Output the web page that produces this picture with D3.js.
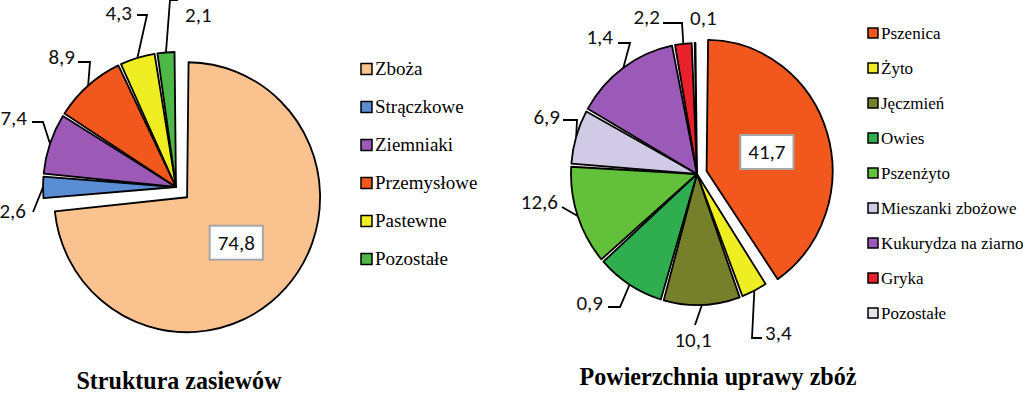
<!DOCTYPE html>
<html>
<head>
<meta charset="utf-8">
<script src="https://cdn.jsdelivr.net/npm/d3@7/dist/d3.min.js"></script>
</head>
<body style="margin:0;background:#fff">
<div id="chart"></div>
<script>
// ---- data: left pie (Struktura zasiewów)
const cropCats   = ['Zboża', 'Strączkowe', 'Ziemniaki', 'Przemysłowe', 'Pastewne', 'Pozostałe'];
const cropVals   = [74.8, 2.6, 7.4, 8.9, 4.3, 2.1];
const cropLabels = ['74,8', '2,6', '7,4', '8,9', '4,3', '2,1'];

// ---- data: right pie (Powierzchnia uprawy zbóż)
const grainCats   = ['Pszenica', 'Żyto', 'Jęczmień', 'Owies', 'Pszenżyto', 'Mieszanki zbożowe',
                     'Kukurydza na ziarno', 'Gryka', 'Pozostałe'];
const grainVals   = [41.7, 3.4, 10.1, 9.0, 12.6, 6.9, 14.0, 2.2, 0.1];
const grainLabels = ['41,7', '3,4', '10,1', '0,9', '12,6', '6,9', '1,4', '2,2', '0,1'];

// ---- styles
const cropColors  = ['#fac28f', '#5a8dd4', '#9c5ab6', '#f2581e', '#eeee22', '#4db848'];
const grainColors = ['#f2581e', '#eeee22', '#76802a', '#2eae4e', '#62c03a', '#d0cae6',
                     '#9c5ab8', '#e8212b', '#e4e4ea'];

const numFont = `'Carlito'`;
const serifFont = `'Liberation Serif'`;

// label placement (relative to the pie centre): leader bends + text position
const cropLayout = [
  null, // inside label
  { pts: [[-143, 25]], at: [-150, 24], anchor: 'end' },
  { pts: [[-133, -65], [-144, -65]], at: [-149, -69], anchor: 'end' },
  { pts: [[-86, -125], [-98, -125]], at: [-101, -130], anchor: 'end' },
  { pts: [[-29, -172], [-39, -172]], at: [-44, -174], anchor: 'end' },
  { pts: [[-6, -187], [2, -187]], at: [9, -172], anchor: 'start' }
];
const grainLayout = [
  null,
  { pts: [[55, 164], [65, 164]], at: [68, 159], anchor: 'start' },
  { pts: [[-2, 151]], at: [-4, 166], anchor: 'middle' },
  { pts: [[-77, 133], [-89, 133]], at: [-94, 129], anchor: 'end' },
  { pts: [[-135, 33]], at: [-139, 28], anchor: 'end' },
  { pts: [[-120, -54], [-134, -54]], at: [-137, -57], anchor: 'end' },
  { pts: [[-67, -131], [-79, -131]], at: [-84, -137], anchor: 'end' },
  { pts: [[-15, -151], [-34, -151]], at: [-37, -157], anchor: 'end' },
  { pts: null, at: [-7, -156], anchor: 'start' }
];

const width = 1023, height = 394;
const svg = d3.select('#chart').append('svg')
  .attr('width', width).attr('height', height).style('display', 'block');

function numText(sel) {
  return sel.attr('font-family', numFont).attr('font-size', 21).attr('fill', '#111');
}

function drawPie(o) {
  const g = svg.append('g').attr('transform', `translate(${o.cx},${o.cy})`);
  const pie = d3.pie().sort(null).padAngle(o.pad)(o.values);
  const arc = d3.arc().innerRadius(0).outerRadius(o.r).padRadius(o.r);
  const rim = d3.arc().innerRadius(o.r).outerRadius(o.r);
  const sy = o.sy; // source picture is a touch taller than wide

  // offset of the exploded slice along its middle angle
  const shift = (d, i) => {
    const e = i === o.exploded ? o.explode : 0;
    const a = (d.startAngle + d.endAngle) / 2;
    return [Math.sin(a) * e, -Math.cos(a) * e];
  };

  g.append('g').attr('transform', `scale(1,${sy})`)
    .selectAll('path.slice').data(pie).enter().append('path')
    .attr('class', 'slice')
    .attr('transform', (d, i) => `translate(${shift(d, i)})`)
    .attr('d', arc)
    .attr('fill', (d, i) => o.colors[i])
    .attr('stroke', '#000')
    .attr('stroke-width', 1.8)
    .attr('stroke-linejoin', 'round')
    .attr('vector-effect', 'non-scaling-stroke');

  // leader lines + labels
  pie.forEach((d, i) => {
    const lay = o.layout[i];
    const s = shift(d, i);
    if (!lay) {
      // label in a box inside the slice
      const c = arc.centroid(d);
      const lg = g.append('g').attr('transform', `translate(${c[0] + s[0]},${(c[1] + s[1]) * sy})`);
      const box = lg.append('rect');
      const t = numText(lg.append('text'))
        .attr('text-anchor', 'middle').attr('dy', '0.35em')
        .text(o.labels[i]);
      const bb = t.node().getBBox();
      box.attr('x', bb.x - 8).attr('y', -17).attr('width', bb.width + 16).attr('height', 34)
        .attr('fill', '#fff').attr('stroke', '#a6a6a6').attr('stroke-width', 2);
      return;
    }
    if (lay.pts) {
      const p0 = rim.centroid(d);
      const line = [[p0[0] + s[0], (p0[1] + s[1]) * sy], ...lay.pts];
      g.append('path')
        .attr('d', d3.line()(line))
        .attr('fill', 'none').attr('stroke', '#000').attr('stroke-width', 1.8);
    }
    numText(g.append('text'))
      .attr('x', lay.at[0]).attr('y', lay.at[1]).attr('dy', '0.35em')
      .attr('text-anchor', lay.anchor)
      .text(o.labels[i]);
  });
}

function drawLegend(o) {
  const y = d3.scalePoint().domain(o.cats).range(o.range);
  const lg = svg.append('g');
  const rows = lg.selectAll('g').data(o.cats).enter().append('g')
    .attr('transform', d => `translate(${o.x},${y(d)})`);
  rows.append('rect')
    .attr('x', 0).attr('y', -o.box / 2).attr('width', o.box).attr('height', o.box)
    .attr('fill', (d, i) => o.colors[i]).attr('stroke', '#000').attr('stroke-width', 1.5);
  rows.append('text')
    .attr('x', o.box + 3).attr('dy', '0.33em')
    .attr('font-family', serifFont).attr('font-size', o.size).attr('fill', '#000')
    .text(d => d);
}

drawPie({ cx: 176, cy: 187, r: 133, sy: 1.015, pad: 0.022, values: cropVals, colors: cropColors,
          labels: cropLabels, layout: cropLayout, exploded: 0, explode: 15 });
drawPie({ cx: 697, cy: 174, r: 126, sy: 1.04, pad: 0.024, values: grainVals, colors: grainColors,
          labels: grainLabels, layout: grainLayout, exploded: 0, explode: 10 });

drawLegend({ cats: cropCats, colors: cropColors, x: 361, range: [69, 259], box: 11, size: 19 });
drawLegend({ cats: grainCats, colors: grainColors, x: 868, range: [33, 313], box: 10, size: 17 });

// titles
svg.append('text').attr('x', 179).attr('y', 389).attr('text-anchor', 'middle')
  .attr('font-family', serifFont).attr('font-weight', 'bold').attr('font-size', 26)
  .attr('textLength', 205).attr('lengthAdjust', 'spacingAndGlyphs')
  .text('Struktura zasiewów');
svg.append('text').attr('x', 718).attr('y', 385).attr('text-anchor', 'middle')
  .attr('font-family', serifFont).attr('font-weight', 'bold').attr('font-size', 26)
  .attr('textLength', 277).attr('lengthAdjust', 'spacingAndGlyphs')
  .text('Powierzchnia uprawy zbóż');
</script>
</body>
</html>
